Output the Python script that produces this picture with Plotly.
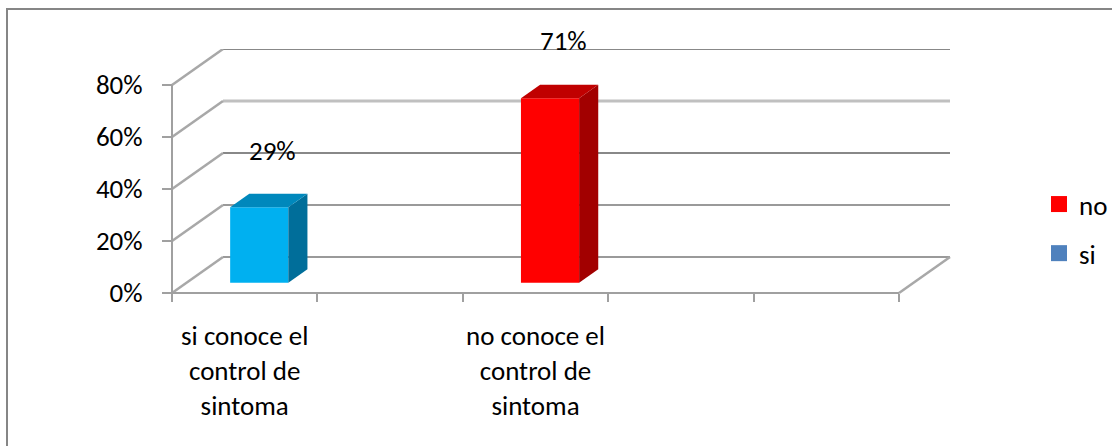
import plotly.graph_objects as go

# ---- data ----
category_labels = ["si conoce el<br>control de<br>sintoma", "no conoce el<br>control de<br>sintoma"]
category_slots = [0, 2]          # slot index of each category on the 5-slot axis
n_slots = 5
series_names = ["si", "no"]
si_values = [0.29, None]
no_values = [None, 0.71]
y_ticks = [0, 0.2, 0.4, 0.6, 0.8]
y_tick_text = ["0%", "20%", "40%", "60%", "80%"]

# ---- styling ----
front_colors = {"si": "#00B0F0", "no": "#FF0000"}
top_colors = {"si": "#0088BC", "no": "#C00000"}
side_colors = {"si": "#006E9A", "no": "#A20000"}
legend_colors = {"no": "#FF0000", "si": "#4F81BD"}
FONT = "Carlito, Lato, sans-serif"
FS = 27

# pixel geometry of the plotting box
W, H = 1112, 446
L, R, T, B = 165, 157, 49, 148
X_FRONT_LEFT, PX_PER_SLOT = 172, 145.4
Y_ZERO, PX_PER_UNIT = 293, 260
plot_w, plot_h = W - L - R, H - T - B
x0 = -0.5 - (X_FRONT_LEFT - L) / PX_PER_SLOT
x1 = x0 + plot_w / PX_PER_SLOT
y0 = -((H - B) - Y_ZERO) / PX_PER_UNIT
y1 = y0 + plot_h / PX_PER_UNIT

# oblique depth of the 3-D box (data units)
DX = 51 / PX_PER_SLOT
DY = 36 / PX_PER_UNIT
F0, F1 = 0.285, 0.66      # bar depth span as fraction of box depth
BAR_W = 0.4
LABEL_DX, LABEL_DY = 0.19, 0.26
xl, xr = -0.5, n_slots - 0.5


def px_x(p):
    return (p - L) / plot_w


def px_y(p):
    return ((H - B) - p) / plot_h


def data_to_paper_y(v):
    return (v - y0) / (y1 - y0)


fig = go.Figure()
shapes = []


def line(xa, ya, xb, yb, color, width, layer="below"):
    shapes.append(dict(type="line", xref="x", yref="y", x0=xa, y0=ya, x1=xb, y1=yb,
                       line=dict(color=color, width=width), layer=layer))


# back wall gridlines
grid_colors = ["#9A9A9A", "#9A9A9A", "#888888", "#C0C0C0", "#888888"]
grid_widths = [2, 2, 2, 3, 2]
for v, c, w in zip(y_ticks, grid_colors, grid_widths):
    line(xl + DX, v + DY, xr + DX, v + DY, c, w)
    # side wall diagonals
    line(xl, v, xl + DX, v + DY, "#A8A8A8", 2.5)
# floor right edge
line(xr, 0, xr + DX, DY, "#A8A8A8", 2.5)
# front floor edge and value axis line
line(xl, 0, xr, 0, "#A0A0A0", 2)
line(xl, 0, xl, y_ticks[-1], "#A0A0A0", 2)

# bars: front faces as bar traces, top and side faces as oblique paths
for name, vals in (("si", si_values), ("no", no_values)):
    for slot, v in zip(category_slots, vals):
        if v is None:
            continue
        cx = slot + DX * F0
        base = DY * F0
        fig.add_trace(go.Bar(x=[cx], y=[v], base=[base], width=BAR_W,
                             marker=dict(color=front_colors[name], line=dict(width=0)),
                             showlegend=False, hoverinfo="skip"))
        a, b = cx - BAR_W / 2, cx + BAR_W / 2
        top = base + v
        ddx, ddy = DX * (F1 - F0), DY * (F1 - F0)
        shapes.append(dict(type="path", xref="x", yref="y", layer="above",
                           path=f"M{b},{base} L{b+ddx},{base+ddy} L{b+ddx},{top+ddy} L{b},{top} Z",
                           fillcolor=side_colors[name], line=dict(width=0)))
        shapes.append(dict(type="path", xref="x", yref="y", layer="above",
                           path=f"M{a},{top} L{a+ddx},{top+ddy} L{b+ddx},{top+ddy} L{b},{top} Z",
                           fillcolor=top_colors[name], line=dict(width=0)))
        fig.add_annotation(x=slot + LABEL_DX, y=data_to_paper_y(v + LABEL_DY),
                           xref="x", yref="paper", xanchor="center", yanchor="middle",
                           text=f"{round(v * 100)}%", showarrow=False,
                           font=dict(family=FONT, size=FS, color="#000000"))

# legend entries
for name in ("no", "si"):
    fig.add_trace(go.Scatter(x=[None], y=[None], mode="markers", name=name,
                             legendgroup=name,
                             marker=dict(symbol="square", size=16, color=legend_colors[name])))

# chart border
shapes.append(dict(type="rect", xref="paper", yref="paper",
                   x0=px_x(7), y0=px_y(9), x1=px_x(1125), y1=px_y(460),
                   line=dict(color="#868686", width=2), fillcolor="rgba(0,0,0,0)"))

fig.update_layout(
    width=W, height=H,
    margin=dict(l=L, r=R, t=T, b=B, pad=0, autoexpand=False),
    paper_bgcolor="white", plot_bgcolor="white",
    font=dict(family=FONT, size=FS, color="#000000"),
    barmode="overlay",
    shapes=shapes,
    showlegend=True,
    legend=dict(x=px_x(1039), y=px_y(180), xanchor="left", yanchor="top",
                tracegroupgap=11, bgcolor="rgba(0,0,0,0)",
                font=dict(family=FONT, size=FS)),
    xaxis=dict(range=[x0, x1], showgrid=False, zeroline=False, showline=False,
               anchor="free", position=px_y(Y_ZERO),
               tickmode="array", tickvals=category_slots, ticktext=category_labels,
               ticks="", ticklabelstandoff=24,
               minor=dict(tickmode="array", tickvals=[i - 0.5 for i in range(n_slots + 1)],
                          ticks="outside", ticklen=8, tickwidth=2, tickcolor="#A0A0A0"),
               fixedrange=True),
    yaxis=dict(range=[y0, y1], showgrid=False, zeroline=False, showline=False,
               anchor="free", position=px_x(X_FRONT_LEFT),
               tickmode="array", tickvals=y_ticks, ticktext=y_tick_text,
               ticks="outside", ticklen=10, tickwidth=2, tickcolor="#A0A0A0",
               ticklabelstandoff=14, fixedrange=True),
)

fig.write_html("out.html")
